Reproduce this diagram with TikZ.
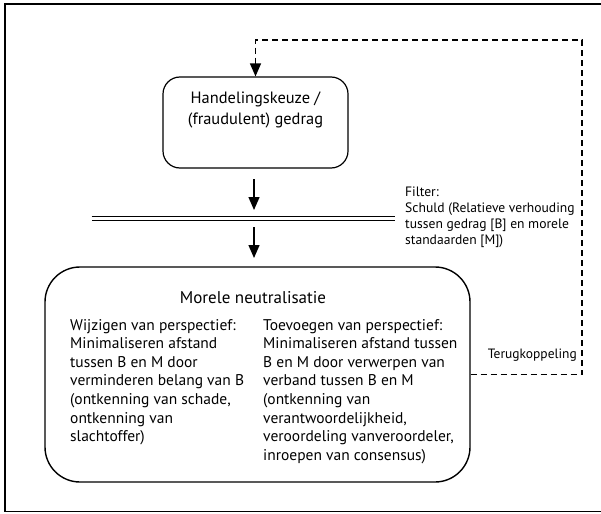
\documentclass[tikz,border=0pt]{standalone}
\usepackage{fontspec}
\setmainfont{PT Sans}
\usetikzlibrary{arrows.meta, positioning}

\begin{document}
\begin{tikzpicture}[
  x=1pt, y=-1pt,
  box/.style={draw, line width=1pt, inner sep=0pt},
  txt/.style={inner sep=0pt, align=left},
  flow/.style={line width=1.4pt, -{Triangle[length=13pt,width=11pt]}},
  feedback/.style={line width=1.3pt, dash pattern=on 6pt off 4pt, -{Triangle[length=13pt,width=11pt]}}
]
  \useasboundingbox (0,0) rectangle (601,513);
  \draw[line width=1.7pt] (5,4) rectangle (603,511.5);

  \node[box, rounded corners=17pt, line width=1.2pt, minimum width=185pt, minimum height=91pt] (choice) at (255.5,122.5) {};
  \node[txt, align=center, anchor=north, font=\fontsize{16.4}{20.5}\selectfont] (choicetext) at (255.5,92) {Handelingskeuze /\\(fraudulent) gedrag};

  \coordinate (filterL) at (91.7,218);
  \coordinate (filterR) at (395,218);
  \draw[double, double distance=3pt, line width=1pt] (filterL) -- (filterR);
  \node[txt, anchor=north west, font=\fontsize{13.6}{16.2}\selectfont] (filter) at (405,186.5) {Filter:\\Schuld (Relatieve verhouding\\tussen gedrag [B] en morele\\standaarden [M])};

  \node[box, rounded corners=35pt, line width=1.4pt, minimum width=425pt, minimum height=215pt] (moral) at (257.5,374.5) {};
  \node[txt, anchor=base, font=\fontsize{17}{20}\selectfont] (moraltitle) at (253,303) {Morele neutralisatie};
  \node[txt, anchor=north west, font=\fontsize{15.5}{18.6}\selectfont] (shift) at (70,319) {Wijzigen van perspectief:\\Minimaliseren afstand\\tussen B en M door\\verminderen belang van B\\(ontkenning van schade,\\ontkenning van\\slachtoffer)};
  \node[txt, anchor=north west, font=\fontsize{15.5}{18.6}\selectfont] (add) at (263,319) {Toevoegen van perspectief:\\Minimaliseren afstand tussen\\B en M door verwerpen van\\verband tussen B en M\\(ontkenning van\\verantwoordelijkheid,\\veroordeling vanveroordeler,\\inroepen van consensus)};

  \coordinate (fbcorner) at (582,40);
  \node[txt, anchor=base east, font=\fontsize{13.5}{16}\selectfont] (fblabel) at (577,358) {Terugkoppeling};

  % flow through the filter
  \coordinate (arrowA) at (254,179);
  \coordinate (arrowB) at (254,210);
  \coordinate (arrowC) at (254,227);
  \coordinate (arrowD) at (254,258);
  \draw[flow] (arrowA) -- (arrowB);
  \draw[flow] (arrowC) -- (arrowD);

  % feedback loop
  \draw[feedback] (moral.east) -| (fbcorner) -| (choice.north);
\end{tikzpicture}
\end{document}
